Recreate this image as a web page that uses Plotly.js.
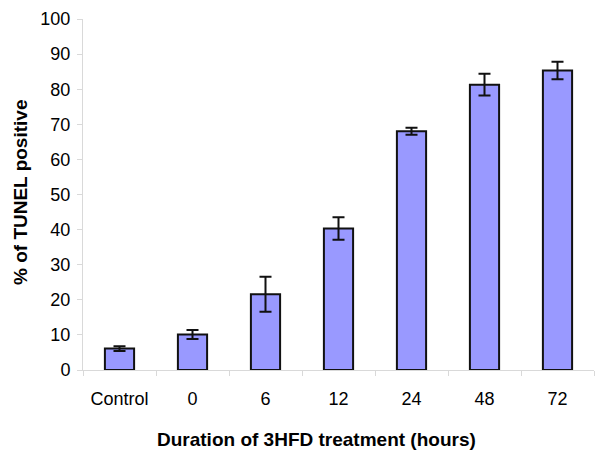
<!DOCTYPE html>
<html>
<head>
<meta charset="utf-8">
<script src="https://cdn.plot.ly/plotly-3.0.1.min.js"></script>
<style>html,body{margin:0;padding:0;background:#fff}#chart{width:600px;height:456px}</style>
</head>
<body>
<div id="chart"></div>
<script>
var categories = ["Control", "0", "6", "12", "24", "48", "72"];
var values = [6.1, 10.1, 21.6, 40.3, 68.0, 81.3, 85.3];
var errors = [0.7, 1.3, 5.0, 3.2, 1.0, 3.1, 2.5];
var yTickValues = [0, 10, 20, 30, 40, 50, 60, 70, 80, 90, 100];

var FONT = "Liberation Sans, Arial, sans-serif";

var trace = {
  type: "bar",
  x: categories,
  y: values,
  width: 0.4,
  marker: {color: "#9999ff", line: {color: "#111111", width: 2}},
  error_y: {type: "data", array: errors, visible: true, color: "#111111", thickness: 2, width: 6}
};

var layout = {
  width: 600, height: 456,
  margin: {l: 83, r: 6, t: 19, b: 86},
  paper_bgcolor: "#ffffff", plot_bgcolor: "#ffffff",
  showlegend: false,
  font: {family: FONT, color: "#000000", size: 18},
  xaxis: {
    type: "category",
    showline: true, linecolor: "#d9d9d9", linewidth: 1,
    showgrid: false, zeroline: false,
    ticks: "outside", tickson: "boundaries", ticklen: 5, tickcolor: "#d9d9d9",
    tickfont: {family: FONT, size: 18, color: "#000"},
    ticklabelstandoff: 12
  },
  yaxis: {
    range: [0, 100],
    tickvals: yTickValues,
    showline: true, linecolor: "#d9d9d9", linewidth: 1,
    showgrid: false, zeroline: false,
    ticks: "outside", ticklen: 5, tickcolor: "#d9d9d9",
    tickfont: {family: FONT, size: 18, color: "#000"},
    ticklabelstandoff: 3
  },
  annotations: [
    {text: "<b>Duration of 3HFD treatment (hours)</b>", xref: "paper", yref: "paper",
     x: (316 - 83) / 511, y: -(439 - 370) / 351, xanchor: "center", yanchor: "middle",
     showarrow: false, font: {family: FONT, size: 19, color: "#000"}},
    {text: "<b>% of TUNEL positive</b>", xref: "paper", yref: "paper",
     x: -(83 - 20) / 511, y: (370 - 193) / 351, xanchor: "center", yanchor: "middle",
     textangle: -90, showarrow: false, font: {family: FONT, size: 19, color: "#000"}}
  ]
};

Plotly.newPlot("chart", [trace], layout, {displayModeBar: false, staticPlot: true});
</script>
</body>
</html>
